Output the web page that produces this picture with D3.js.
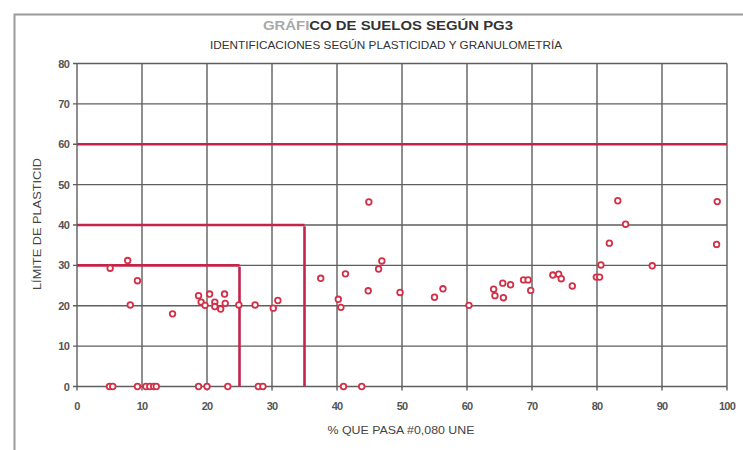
<!DOCTYPE html>
<html><head><meta charset="utf-8">
<script src="https://cdn.jsdelivr.net/npm/d3@7/dist/d3.min.js"></script>
<style>body{margin:0;background:#fff}svg{display:block}</style>
</head><body>
<svg id="c" width="743" height="450"></svg>
<script>
const xTicks = [0,10,20,30,40,50,60,70,80,90,100];
const yTicks = [0,10,20,30,40,50,60,70,80];
const finesPct = [5.0,5.5,9.3,10.6,11.2,11.8,12.2,18.7,20.0,23.2,27.9,28.6,41.0,43.8,
  5.1,7.8,9.3,8.2,14.7,18.7,19.1,19.7,20.4,21.2,21.2,22.1,22.7,22.8,24.9,27.4,30.2,30.9,
  37.5,41.3,40.2,40.6,44.9,46.9,46.4,44.8,49.7,55.0,56.3,60.3,64.1,64.3,65.5,65.6,66.7,
  68.7,69.4,69.8,73.2,74.1,74.5,76.2,79.9,80.4,80.6,81.9,83.2,84.4,88.5,98.5,98.4];
const plasticLimit = [0,0,0,0,0,0,0,0,0,0,0,0,0,0,
  29.3,31.2,26.2,20.2,18.0,22.5,20.9,20.1,22.9,20.9,19.8,19.2,22.9,20.6,20.2,20.2,19.4,21.3,
  26.8,27.9,21.6,19.6,45.7,31.1,29.1,23.7,23.3,22.1,24.2,20.1,24.1,22.5,25.6,22.0,25.2,
  26.4,26.4,23.8,27.6,27.8,26.7,24.9,27.1,27.1,30.1,35.5,46.0,40.2,29.9,45.8,35.2];
const hLimits = [[30,0,25],[40,0,35],[60,0,100]];   // [y, x0, x1]
const vLimits = [[25,0,30],[35,0,40]];              // [x, y0, y1]

const svg = d3.select('#c');
const W = 743, H = 450;
const m = {l:77, r:16, t:63.5, b:63.5};
const x = d3.scaleLinear().domain([0,100]).range([m.l, W-m.r]);
const y = d3.scaleLinear().domain([0,80]).range([H-m.b, m.t]);
const font = "'Liberation Sans', Arial, sans-serif";

// outer frame (left and top edges)
svg.append('path').attr('d', `M14.5,${H} V14.5 H${W}`).attr('fill','none')
  .attr('stroke','#9a9a9a').attr('stroke-width',2);

// grid
const g = svg.append('g');
g.selectAll('.vx').data(xTicks).join('line')
  .attr('x1',d=>x(d)).attr('x2',d=>x(d)).attr('y1',y(0)+4).attr('y2',y(80))
  .attr('stroke','#5e5e5e').attr('stroke-width',1.4);
g.selectAll('.hy').data(yTicks).join('line')
  .attr('x1',x(0)-4).attr('x2',x(100)).attr('y1',d=>y(d)).attr('y2',d=>y(d))
  .attr('stroke','#5e5e5e').attr('stroke-width',1.4);

// tick labels
svg.selectAll('.xl').data(xTicks).join('text')
  .attr('x',d=>x(d)).attr('y',y(0)+23).attr('text-anchor','middle')
  .attr('font-family',font).attr('font-size',11).attr('font-weight','bold').attr('fill','#555').attr('letter-spacing',-0.8).text(d=>d);
svg.selectAll('.yl').data(yTicks).join('text')
  .attr('x',x(0)-8).attr('y',d=>y(d)+4).attr('text-anchor','end')
  .attr('font-family',font).attr('font-size',11).attr('font-weight','bold').attr('fill','#555').attr('letter-spacing',-0.8).text(d=>d);

// limit lines
const red = '#c4244a';
svg.selectAll('.hl').data(hLimits).join('line')
  .attr('x1',d=>x(d[1])).attr('x2',d=>x(d[2])).attr('y1',d=>y(d[0])).attr('y2',d=>y(d[0]))
  .attr('stroke',red).attr('stroke-width',2.6);
svg.selectAll('.vl').data(vLimits).join('line')
  .attr('x1',d=>x(d[0])).attr('x2',d=>x(d[0])).attr('y1',d=>y(d[1])).attr('y2',d=>y(d[2])+1.3)
  .attr('stroke',red).attr('stroke-width',2.6);

// points
svg.selectAll('.pt').data(finesPct.map((v,i)=>[v,plasticLimit[i]])).join('circle')
  .attr('cx',d=>x(d[0])).attr('cy',d=>y(d[1])).attr('r',2.8)
  .attr('fill','#fff').attr('stroke','#d33048').attr('stroke-width',1.8);

// titles
const t1 = svg.append('text').attr('x',388).attr('y',30).attr('text-anchor','middle')
  .attr('font-family',font).attr('font-size',12).attr('font-weight','bold')
  .attr('textLength',250).attr('lengthAdjust','spacingAndGlyphs');
t1.append('tspan').attr('fill','#a8a8a8').text('GRÁFI');
t1.append('tspan').attr('fill','#333').text('CO DE SUELOS SEGÚN PG3');
svg.append('text').attr('x',386).attr('y',49).attr('text-anchor','middle')
  .attr('font-family',font).attr('font-size',10.5).attr('fill','#333')
  .attr('textLength',352).attr('lengthAdjust','spacingAndGlyphs')
  .text('IDENTIFICACIONES SEGÚN PLASTICIDAD Y GRANULOMETRÍA');
svg.append('text').attr('x',401).attr('y',434).attr('text-anchor','middle')
  .attr('font-family',font).attr('font-size',10.5).attr('fill','#444')
  .attr('textLength',147).attr('lengthAdjust','spacingAndGlyphs')
  .text('% QUE PASA #0,080 UNE');
svg.append('text').attr('transform','translate(41,224) rotate(-90)').attr('text-anchor','middle')
  .attr('font-family',font).attr('font-size',10.5).attr('fill','#444')
  .attr('textLength',132).attr('lengthAdjust','spacingAndGlyphs')
  .text('LÍMITE DE PLASTICID');
</script>
</body></html>
